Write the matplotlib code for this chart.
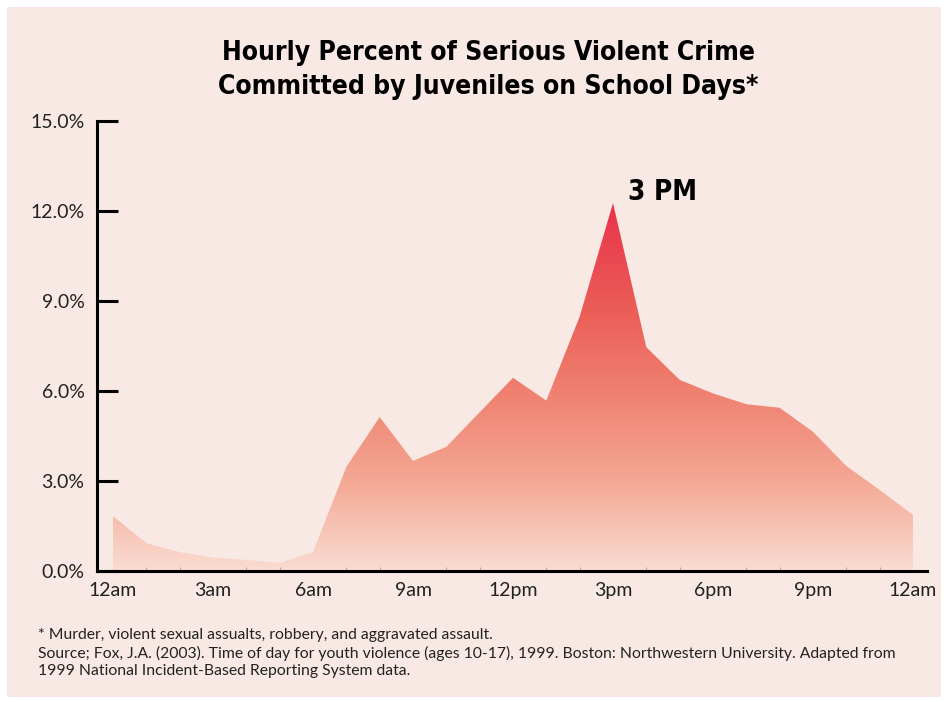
import numpy as np
import matplotlib.pyplot as plt
from matplotlib.colors import LinearSegmentedColormap
from matplotlib.patches import Rectangle

# hourly share of serious violent juvenile crime, school days (percent)
hours = list(range(25))
pct = [1.83, 0.93, 0.63, 0.45, 0.37, 0.27, 0.63, 3.47, 5.13, 3.67,
       4.14, 5.29, 6.44, 5.68, 8.48, 12.26, 7.46, 6.37, 5.92, 5.56,
       5.44, 4.64, 3.50, 2.70, 1.87]
tick_hours = [0, 3, 6, 9, 12, 15, 18, 21, 24]
tick_labels = ["12am", "3am", "6am", "9am", "12pm", "3pm", "6pm", "9pm", "12am"]
y_ticks = [0, 3, 6, 9, 12, 15]

bg = "#f9e9e5"
title_font = dict(family="DejaVu Sans", stretch="condensed", weight="bold")
body_font = ["Lato", "DejaVu Sans"]

fig = plt.figure(figsize=(9.48, 7.02), dpi=100)
fig.patch.set_facecolor("white")
fig.patches.append(Rectangle((7 / 948, 1 - 697 / 702), 934 / 948, 690 / 702,
                             transform=fig.transFigure, facecolor=bg,
                             edgecolor="none", zorder=-10))

ax = fig.add_axes([97 / 948, 1 - 571 / 702, 830 / 948, 450 / 702])
ax.set_facecolor("none")

# vertical gradient fill, clipped to the area under the curve
cmap = LinearSegmentedColormap.from_list(
    "heat", [(0.0, "#fadcd2"), (0.25, "#f4a793"), (0.5, "#ef7e6e"),
             (0.7, "#eb5f58"), (1.0, "#e8334a")])
grad = np.linspace(0, 1, 256).reshape(-1, 1)
img = ax.imshow(grad, cmap=cmap, origin="lower", aspect="auto",
                extent=[hours[0], hours[-1], 0, max(pct)], zorder=1)
poly = ax.fill_between(hours, pct, 0, facecolor="none", edgecolor="none")
clip = poly.get_paths()[0]
img.set_clip_path(clip, transform=ax.transData)

ax.set_xlim(-0.48, 24.42)
ax.set_ylim(0, 15)

for s in ["top", "right"]:
    ax.spines[s].set_visible(False)
for s in ["left", "bottom"]:
    ax.spines[s].set_linewidth(2.2)
    ax.spines[s].set_color("black")

ax.set_yticks(y_ticks)
ax.set_yticklabels([f"{v:.1f}%" for v in y_ticks])
ax.set_xticks(tick_hours)
ax.set_xticklabels(tick_labels)
ax.set_xticks(hours, minor=True)

ax.tick_params(axis="y", direction="in", length=15, width=2.2, pad=9,
               labelsize=14, labelcolor="#222222")
ax.tick_params(axis="x", which="major", length=0, pad=8,
               labelsize=14, labelcolor="#222222")
ax.tick_params(axis="x", which="minor", direction="in", length=3,
               width=0.6, color="#9a9a9a")
for lab in ax.get_xticklabels() + ax.get_yticklabels():
    lab.set_family(body_font)

ax.text(15.45, 12.37, "3 PM", fontsize=20, ha="left", va="baseline",
        **title_font)

fig.text(488 / 948, 1 - 70 / 702, "Hourly Percent of Serious Violent Crime\n"
         "Committed by Juveniles on School Days*", ha="center", va="center",
         fontsize=19, linespacing=1.45, **title_font)

fig.text(38 / 948, 1 - 628 / 702,
         "* Murder, violent sexual assualts, robbery, and aggravated assault.\n"
         "Source; Fox, J.A. (2003). Time of day for youth violence (ages 10-17), "
         "1999. Boston: Northwestern University. Adapted from\n"
         "1999 National Incident-Based Reporting System data.",
         ha="left", va="top", fontsize=11.3, linespacing=1.3,
         family=body_font, color="#222222")

fig.savefig("out.png", dpi=100, facecolor=fig.get_facecolor())
